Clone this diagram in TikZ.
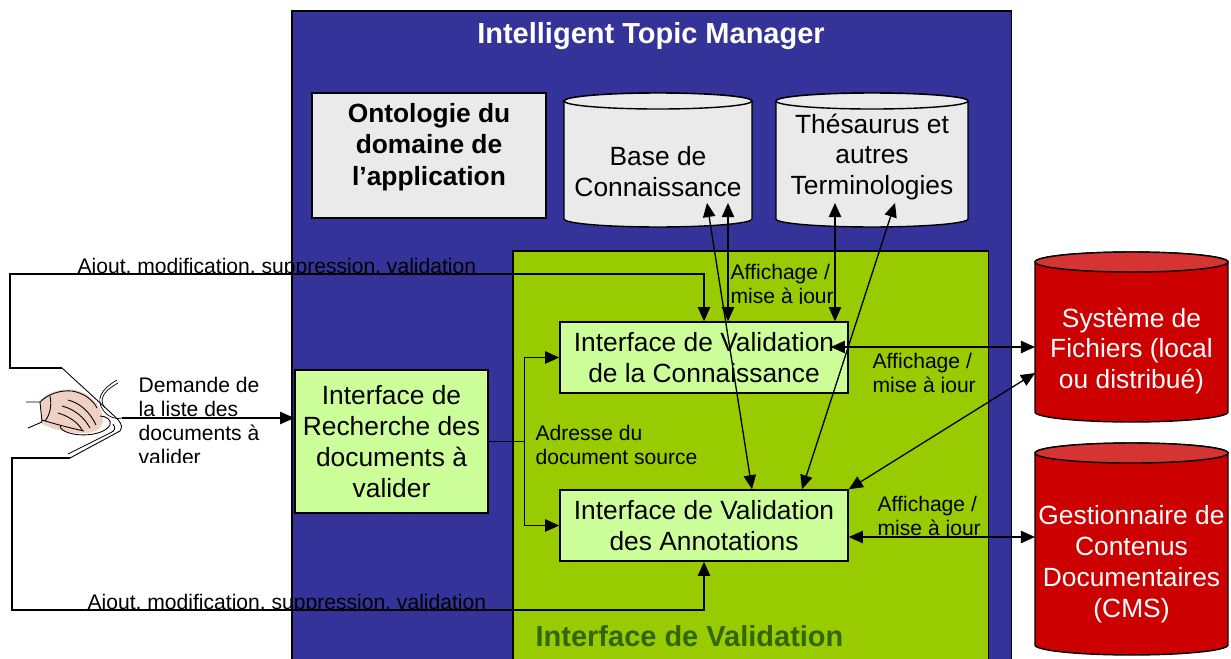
\documentclass[tikz,border=0pt]{standalone}
\usepackage{fontspec}
\setmainfont{Liberation Sans}
\usetikzlibrary{arrows.meta,positioning}

\definecolor{itmblue}{RGB}{51,51,153}
\definecolor{valgreen}{RGB}{153,204,0}
\definecolor{boxgreen}{RGB}{204,255,153}
\definecolor{ontogray}{RGB}{234,234,234}
\definecolor{storered}{RGB}{204,0,0}
\definecolor{storetop}{RGB}{214,51,51}
\definecolor{darkgreen}{RGB}{51,102,0}
\definecolor{skin}{RGB}{239,208,196}

% cylinder drawn round a node: name, x radius, y radius, body colour, top colour
\newcommand{\drum}[5]{%
  \draw[line width=0.8pt, fill=#4] ([yshift=-#3]#1.north west) -- ([yshift=#3]#1.south west)
    arc[start angle=180, end angle=360, x radius=#2, y radius=#3]
    -- ([yshift=-#3]#1.north east)
    arc[start angle=0, end angle=180, x radius=#2, y radius=#3] -- cycle;
  \draw[line width=0.8pt, fill=#5] ([yshift=-#3]#1.north) ellipse[x radius=#2, y radius=#3];
}

\tikzset{
  boxtext/.style={font=\fontsize{15}{17.6}\selectfont, align=center},
  lbl/.style={font=\fontsize{12}{13.6}\selectfont, align=left, inner sep=0pt},
  ifbox/.style={draw, line width=0.9pt, fill=boxgreen, boxtext},
  store/.style={inner sep=0pt, outer sep=0pt},
  pen/.style={line width=0.5pt}
}

\begin{document}
\begin{tikzpicture}[x=0.02cm, y=-0.02cm, >={Triangle[length=8pt,width=7pt]}, line width=0.75pt]
  \useasboundingbox (0,0) rectangle (1231,659);

  % Intelligent Topic Manager frame
  \node[draw, line width=0.9pt, fill=itmblue, anchor=north west, inner sep=0pt,
        minimum width=14.4cm, minimum height=13.3cm] (itm) at (291,10) {};
  \node[font=\bfseries\fontsize{16.5}{20}\selectfont, text=white] (title) at (651,36) {Intelligent Topic Manager};

  % Ontology and knowledge stores
  \node[draw, line width=0.9pt, fill=ontogray, minimum width=4.68cm, minimum height=2.5cm] (onto) at (429,155.5) {};
  \node[font=\bfseries\fontsize{15}{17.8}\selectfont, align=center] (ontotxt) at (429,147) {Ontologie du\\domaine de\\l’application};
  \node[store, minimum width=3.76cm, minimum height=2.68cm] (base) at (658,160) {};
  \drum{base}{1.88cm}{0.16cm}{ontogray}{ontogray}
  \node[boxtext] (basetxt) at (658,172) {Base de\\Connaissance};
  \node[store, minimum width=3.84cm, minimum height=2.68cm] (thes) at (872,160) {};
  \drum{thes}{1.92cm}{0.16cm}{ontogray}{ontogray}
  \node[boxtext] (thestxt) at (872,157) {Thésaurus et\\autres\\Terminologies};

  % Validation area
  \node[draw, line width=0.9pt, fill=valgreen, anchor=north west, inner sep=0pt,
        minimum width=9.52cm, minimum height=8.5cm] (valarea) at (512,250) {};
  \node[font=\bfseries\fontsize{16.5}{20}\selectfont, text=darkgreen, anchor=base west, inner sep=0pt] (valtitle) at (535,646) {Interface de Validation};

  \node[ifbox, minimum width=5.76cm, minimum height=1.42cm] (conn) at (704,357.5) {Interface de Validation\\de la Connaissance};
  \node[ifbox, minimum width=5.76cm, minimum height=1.42cm] (annot) at (704,525.5) {Interface de Validation\\des Annotations};
  \node[ifbox, minimum width=3.86cm, minimum height=2.86cm] (rech) at (391.5,441.5) {Interface de\\Recherche des\\documents à\\valider};

  % External stores
  \node[store, minimum width=3.86cm, minimum height=3.4cm] (sys) at (1131.5,337) {};
  \drum{sys}{1.93cm}{0.2cm}{storered}{storetop}
  \node[boxtext, text=white] (systxt) at (1131.5,351) {Système de\\Fichiers (local\\ou distribué)};
  \node[store, minimum width=3.86cm, minimum height=4.24cm] (cms) at (1131.5,549) {};
  \drum{cms}{1.93cm}{0.2cm}{storered}{storetop}
  \node[boxtext, text=white] (cmstxt) at (1131.5,564) {Gestionnaire de\\Contenus\\Documentaires\\(CMS)};

  % User hand on the mouse
  \coordinate (padtop) at (62,368);
  \coordinate (padbot) at (70,458);
  \coordinate (mousept) at (122,418);
  \fill[skin] (40,402) .. controls (45,392) and (62,388) .. (75,390)
    .. controls (90,393) and (101,405) .. (103,418)
    .. controls (104,428) and (96,433) .. (85,433)
    .. controls (70,434) and (55,430) .. (42,424) -- cycle;
  \draw[pen] (padtop) -- (110,412) .. controls (116,418) and (125,424) .. (120,431) -- (padbot);
  \draw[pen] (113,424) .. controls (116,428) and (115,431) .. (110,433) -- (68,454);
  \draw[pen] (60,426) .. controls (62,437) and (102,439) .. (110,425)
    .. controls (112,420) and (106,416) .. (100,416);
  \draw[pen] (40,402) .. controls (48,394) and (60,390) .. (72,391)
    .. controls (84,393) and (93,400) .. (97,408);
  \draw[pen] (68,400) .. controls (80,403) and (90,412) .. (96,425);
  \draw[pen] (62,406) .. controls (74,409) and (84,417) .. (90,428);
  \draw[pen] (58,413) .. controls (68,416) and (78,422) .. (82,430);
  \draw[pen] (42,420) .. controls (55,424) and (70,428) .. (84,431);
  \draw[pen] (50,396) .. controls (52,405) and (50,415) .. (45,421);
  \draw[pen] (26,402) -- (40,402) -- (42,422) -- (28,428);
  \draw[line width=0.4pt] (117,380) .. controls (100,390) and (96,400) .. (103,410)
    .. controls (108,417) and (116,420) .. (122,418);
  \draw[line width=0.4pt] (118,383) .. controls (102,392) and (99,400) .. (105,408);

  % Connectors
  \draw[->] (padtop) -- (10,368) -- (10,274) -| (conn.north);
  \draw[->] (padbot) -- (12,458) -- (12,610) -| (annot.south);
  \draw[->] (mousept) -- (mousept -| rech.west);
  \draw (rech.east) -- ++(36,0) coordinate (fork);
  \draw[->] (fork) |- (conn.west);
  \draw[->] (fork) |- (annot.west);
  \draw[<->] ([shift={(49,-24)}]base.south) -- ([shift={(48,0)}]annot.north);
  \draw[<->] ([shift={(70,-24)}]base.south) coordinate (bv) -- (bv |- conn.north);
  \draw[<->] ([shift={(-37,-24)}]thes.south) coordinate (tv) -- (tv |- conn.north);
  \draw[<->] ([shift={(23,-24)}]thes.south) -- ([shift={(98,0)}]annot.north);
  \draw[<->, shorten >=-0.36cm] ([shift={(0,10)}]sys.west) coordinate (sv) -- (sv -| conn.east);
  \draw[<->] ([shift={(0,36)}]sys.west) -- (annot.north east);
  \draw[<->] ([shift={(0,11.5)}]annot.east) coordinate (av) -- (av -| cms.west);

  % Labels
  \begin{scope}
    \clip (0,0) rectangle (1231,273.5);
    \node[lbl, anchor=base west] (addtop) at (77,273) {Ajout, modification, suppression, validation};
  \end{scope}
  \begin{scope}
    \clip (0,0) rectangle (1231,609.5);
    \node[lbl, anchor=base west] (addbot) at (87,609) {Ajout, modification, suppression, validation};
  \end{scope}
  \begin{scope}
    \clip (0,0) rectangle (1231,462);
    \node[lbl, anchor=base west] (demand) at (138,464) {Demande de\\la liste des\\documents à\\valider};
  \end{scope}
  \begin{scope}
    \clip (700,250) rectangle (900,303.5);
    \node[lbl, anchor=base west] (affkb) at (730,303) {Affichage /\\mise à jour};
  \end{scope}
  \begin{scope}
    \clip (850,340) rectangle (1000,392.5);
    \node[lbl, anchor=base west] (afffs) at (872,392) {Affichage /\\mise à jour};
  \end{scope}
  \begin{scope}
    \clip (850,480) rectangle (1000,536);
    \node[lbl, anchor=base west] (affcms) at (877,535.5) {Affichage /\\mise à jour};
  \end{scope}
  \node[lbl, anchor=base west] (addr) at (535,464) {Adresse du\\document source};
\end{tikzpicture}
\end{document}
